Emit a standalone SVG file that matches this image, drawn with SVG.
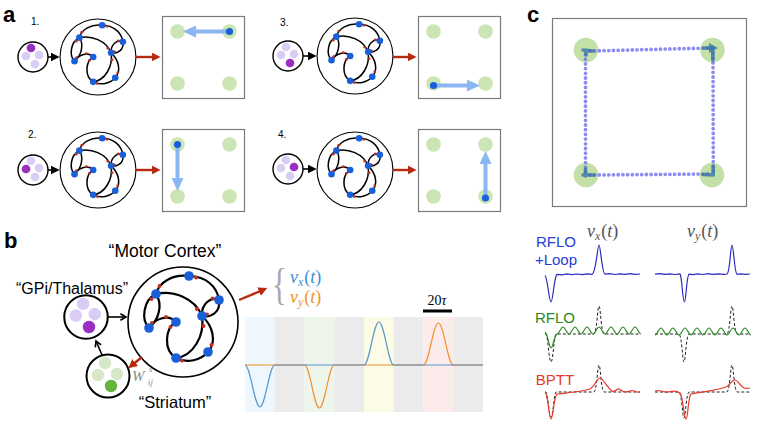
<svg xmlns="http://www.w3.org/2000/svg" xmlns:xlink="http://www.w3.org/1999/xlink" width="758" height="427" viewBox="0 0 758 427">
<style>
.sans{font-family:"Liberation Sans",Arial,sans-serif}
.pl{font-family:"Liberation Sans",Arial,sans-serif;font-size:22px;font-weight:bold}
.num{font-family:"Liberation Sans",Arial,sans-serif;font-size:10px}
.box{fill:#fff;stroke:#7a7a7a;stroke-width:1.2}
.tgt{fill:#cbe5b4}
.math{font-family:"Liberation Serif","Times New Roman",serif;font-style:italic}
.up{font-style:normal}
.ra{fill:none;stroke:#b8290f;stroke-width:2.4}
.ba{fill:none;stroke:#000;stroke-width:1.6}
.bl{fill:none;stroke:#8ab6f2;stroke-width:4}
.bdot{fill:#1a5fd8}
.tr{fill:none;stroke-width:1.2}
.dash{fill:none;stroke:#222;stroke-width:1;stroke-dasharray:3 2}
.traj{fill:none;stroke:#7070ee;stroke-opacity:0.8;stroke-width:3.8;stroke-linecap:round;stroke-dasharray:0 4.7}
.clu{fill:none;stroke:#3a74a8;stroke-opacity:0.8;stroke-width:3.6;stroke-linecap:round}
</style>
<defs>
<marker id="rh" viewBox="0 0 10 10" refX="6" refY="5" markerWidth="9" markerHeight="9" markerUnits="userSpaceOnUse" orient="auto"><path d="M0,0 L10,5 L0,10 z" fill="#b8290f"/></marker>
<marker id="bh" viewBox="0 0 10 10" refX="6" refY="5" markerWidth="9" markerHeight="9" markerUnits="userSpaceOnUse" orient="auto"><path d="M0,0 L10,5 L0,10 z" fill="#000"/></marker>
<marker id="ch" viewBox="0 0 10 10" refX="8" refY="5" markerWidth="8" markerHeight="8" markerUnits="userSpaceOnUse" orient="auto"><path d="M1,1 L8,5 L1,9" fill="none" stroke="#000" stroke-width="2"/></marker>
<marker id="lb" viewBox="0 0 13 12" refX="7" refY="6" markerWidth="13" markerHeight="12" markerUnits="userSpaceOnUse" orient="auto"><path d="M0,0 L13,6 L0,12 z" fill="#8ab6f2"/></marker>
<g id="net">
<circle r="55" fill="#fff" stroke="#000" stroke-width="1.6"/>
<g fill="none" stroke="#000" stroke-width="2.2">
<path d="M-27,-28 C-24,-40 -10,-48 6,-46"/>
<path d="M6,-46 C22,-46 34,-36 36,-22"/>
<path d="M-27,-28 C-10,-32 12,-24 19,-6"/>
<path d="M-27,-28 C-40,-22 -42,-2 -34,6"/>
<path d="M-27,-28 C-20,-18 -24,-2 -34,6"/>
<path d="M-34,6 C-28,-4 -14,-8 -7,0"/>
<path d="M-7,0 C-18,6 -20,28 -7,36"/>
<path d="M36,-22 C28,-26 18,-18 19,-6"/>
<path d="M36,-22 C38,-10 28,-4 19,-6"/>
<path d="M19,-6 C30,4 34,20 25,30"/>
<path d="M19,-6 C22,14 10,34 -7,36"/>
<path d="M-7,36 C4,42 18,38 25,30"/>
</g>
<g fill="#c0301f">
<circle cx="-23.5" cy="-36" r="2"/><circle cx="13" cy="-44.5" r="2"/><circle cx="14" cy="-13" r="2"/>
<circle cx="-31.5" cy="-23" r="2"/><circle cx="-31" cy="1" r="2"/><circle cx="-12.5" cy="5" r="2"/>
<circle cx="-17" cy="-5" r="2"/><circle cx="29.5" cy="-23.5" r="2"/><circle cx="24" cy="-7.5" r="2"/>
<circle cx="28.5" cy="23" r="2"/><circle cx="20.5" cy="4" r="2"/><circle cx="-1" cy="38.5" r="2"/>
</g>
<g fill="#1a5fd8">
<circle cx="6" cy="-46" r="4.8"/><circle cx="-27" cy="-28" r="4.8"/><circle cx="36" cy="-22" r="4.8"/>
<circle cx="19" cy="-6" r="4.8"/><circle cx="-7" cy="0" r="4.8"/><circle cx="-34" cy="6" r="4.8"/>
<circle cx="25" cy="30" r="4.8"/><circle cx="-7" cy="36" r="4.8"/>
</g>
</g>
<g id="inp">
<circle r="15" fill="#fff" stroke="#000" stroke-width="1.4"/>
<g fill="#d9ccf5"><circle cx="-2" cy="-9" r="4.3"/><circle cx="-7" cy="-1" r="4.3"/><circle cx="6" cy="-2" r="4.3"/><circle cx="2" cy="7" r="4.3"/></g>
</g>
</defs>
<rect width="758" height="427" fill="#fff"/>

<!-- Panel a -->
<text class="pl" x="3" y="22">a</text>
<g id="a1">
<text class="num" x="31" y="25">1.</text>
<use xlink:href="#inp" transform="translate(33,57)"/>
<circle cx="31" cy="48" r="4.3" fill="#9b30c0"/>
<use xlink:href="#net" transform="translate(98,57) scale(0.69)"/>
<rect class="box" x="162.5" y="16.5" width="82" height="82"/>
<circle class="tgt" cx="177.5" cy="31.5" r="7.3"/><circle class="tgt" cx="229.5" cy="31.5" r="7.3"/>
<circle class="tgt" cx="177.5" cy="83.5" r="7.3"/><circle class="tgt" cx="229.5" cy="83.5" r="7.3"/>
<path class="bl" d="M229.5,31.5 L189,31.5" marker-end="url(#lb)"/>
<circle class="bdot" cx="229.5" cy="31.5" r="3.6"/>
</g>
<g id="a2">
<text class="num" x="28" y="138">2.</text>
<use xlink:href="#inp" transform="translate(33,170)"/>
<circle cx="26" cy="169" r="4.3" fill="#9b30c0"/>
<use xlink:href="#net" transform="translate(98,170) scale(0.69)"/>
<rect class="box" x="162.5" y="129.5" width="82" height="82"/>
<circle class="tgt" cx="177.5" cy="144.5" r="7.3"/><circle class="tgt" cx="229.5" cy="144.5" r="7.3"/>
<circle class="tgt" cx="177.5" cy="196.5" r="7.3"/><circle class="tgt" cx="229.5" cy="196.5" r="7.3"/>
<path class="bl" d="M177.5,144.5 L177.5,185" marker-end="url(#lb)"/>
<circle class="bdot" cx="177.5" cy="144.5" r="3.6"/>
</g>
<g id="a3">
<text class="num" x="280" y="26">3.</text>
<use xlink:href="#inp" transform="translate(288,56)"/>
<circle cx="290" cy="63" r="4.3" fill="#9b30c0"/>
<use xlink:href="#net" transform="translate(355,56) scale(0.69)"/>
<rect class="box" x="418.5" y="16.5" width="82" height="82"/>
<circle class="tgt" cx="433.5" cy="31.5" r="7.3"/><circle class="tgt" cx="485.5" cy="31.5" r="7.3"/>
<circle class="tgt" cx="433.5" cy="83.5" r="7.3"/><circle class="tgt" cx="485.5" cy="83.5" r="7.3"/>
<path class="bl" d="M433.5,85.5 L474,85.5" marker-end="url(#lb)"/>
<circle class="bdot" cx="433.5" cy="85.5" r="3.6"/>
</g>
<g id="a4">
<text class="num" x="278" y="138">4.</text>
<use xlink:href="#inp" transform="translate(288,169)"/>
<circle cx="294" cy="167" r="4.3" fill="#9b30c0"/>
<use xlink:href="#net" transform="translate(355,170) scale(0.69)"/>
<rect class="box" x="418.5" y="129.5" width="82" height="82"/>
<circle class="tgt" cx="433.5" cy="144.5" r="7.3"/><circle class="tgt" cx="485.5" cy="144.5" r="7.3"/>
<circle class="tgt" cx="433.5" cy="196.5" r="7.3"/><circle class="tgt" cx="485.5" cy="196.5" r="7.3"/>
<path class="bl" d="M485.5,198 L485.5,157" marker-end="url(#lb)"/>
<circle class="bdot" cx="485.5" cy="198" r="3.6"/>
</g>
<g id="connectors-a">
<path class="ba" d="M48,57 L56,57" marker-end="url(#bh)"/>
<path class="ba" d="M48,170 L56,170" marker-end="url(#bh)"/>
<path class="ba" d="M303,56 L313,56" marker-end="url(#bh)"/>
<path class="ba" d="M303,169 L313,169" marker-end="url(#bh)"/>
<path class="ra" d="M136,57 L157,57" marker-end="url(#rh)"/>
<path class="ra" d="M136,170 L157,170" marker-end="url(#rh)"/>
<path class="ra" d="M393,57 L413,57" marker-end="url(#rh)"/>
<path class="ra" d="M393,170 L413,170" marker-end="url(#rh)"/>
</g>

<!-- Panel b -->
<text class="pl" x="4" y="248">b</text>
<g id="motor">
<use xlink:href="#net" transform="translate(183,322)"/>
<text class="sans" x="165" y="257" font-size="17.5" text-anchor="middle">“Motor Cortex”</text>
</g>
<g id="gpi">
<use xlink:href="#inp" transform="translate(86,317) scale(1.45)"/>
<circle cx="89" cy="327" r="6.2" fill="#9b30c0"/>
<text class="sans" x="72" y="294" font-size="16" text-anchor="middle">“GPi/Thalamus”</text>
</g>
<g id="striatum">
<circle cx="108" cy="376" r="21.5" fill="#fff" stroke="#000" stroke-width="2"/>
<g fill="#d6e8c8"><circle cx="105" cy="363" r="6.2"/><circle cx="98" cy="375" r="6.2"/><circle cx="117" cy="374" r="6.2"/></g>
<circle cx="111" cy="386" r="6.2" fill="#64b43c"/>
<text class="sans" x="175" y="408" font-size="16.5" text-anchor="middle">“Striatum”</text>
</g>
<g id="connectors-b">
<path class="ba" d="M108,317 L126,317" stroke-width="2" marker-end="url(#ch)"/>
<path class="ba" d="M102,355 L96,341" stroke-width="2" marker-end="url(#ch)"/>
<path class="ra" d="M142,357 L131,366" stroke-width="2" marker-end="url(#rh)"/>
<path class="ra" d="M239,300 L264,289.5" stroke-width="2" marker-end="url(#rh)"/>
</g>
<g id="wlabel" class="math" fill="#8a8a8a">
<text x="132" y="381" font-size="15">W</text>
<text x="149" y="372" font-size="9">s</text>
<text x="148" y="385" font-size="9">ij</text>
</g>
<g id="vout">
<text transform="translate(272,299) scale(0.7,1)" font-family="Liberation Serif,serif" font-size="44" fill="#a8a8a8">{</text>
<text class="math" x="290" y="283" font-size="18" fill="#3a8fd9">v<tspan font-size="12" dy="3">x</tspan><tspan class="up" dy="-3" dx="1">(</tspan>t<tspan class="up">)</tspan></text>
<text class="math" x="290" y="303" font-size="18" fill="#f0922e">v<tspan font-size="12" dy="3">y</tspan><tspan class="up" dy="-3" dx="1">(</tspan>t<tspan class="up">)</tspan></text>
</g>
<g id="scalebar">
<text x="437" y="305" font-family="Liberation Serif,serif" font-size="14" text-anchor="middle">20<tspan font-style="italic">τ</tspan></text>
<rect x="423" y="309.5" width="29" height="3" fill="#000"/>
</g>
<g id="traces-b">
<rect x="245" y="317" width="29.75" height="95" fill="#edf7fd"/>
<rect x="274.75" y="317" width="29.75" height="95" fill="#ebebeb"/>
<rect x="304.5" y="317" width="29.75" height="95" fill="#eef5ea"/>
<rect x="334.25" y="317" width="29.75" height="95" fill="#ebebeb"/>
<rect x="364" y="317" width="29.75" height="95" fill="#fbfbe6"/>
<rect x="393.75" y="317" width="29.75" height="95" fill="#ebebeb"/>
<rect x="423.5" y="317" width="29.75" height="95" fill="#fbeceb"/>
<rect x="453.25" y="317" width="29.75" height="95" fill="#ebebeb"/>
<path class="tr" stroke="#f0922e" d="M245,365 L304.5,365 C309.9,365 314,408 319.4,408 C324.8,408 328.9,365 334.25,365 L423.5,365 C428.9,365 433,323 438.4,323 C443.8,323 447.9,365 453.25,365 L483,365"/>
<path class="tr" stroke="#3d85c6" stroke-opacity="0.85" d="M245,365 C250.4,365 254.5,407 259.9,407 C265.3,407 269.4,365 274.75,365 L364,365 C369.4,365 373.5,322 378.9,322 C384.3,322 388.4,365 393.75,365 L483,365"/>
</g>

<!-- Panel c -->
<text class="pl" x="527" y="22">c</text>
<g id="arena">
<rect class="box" x="552.5" y="18.5" width="194" height="188"/>
<g fill="#b8dc98" fill-opacity="0.85">
<circle cx="586" cy="50" r="12.3"/><circle cx="712.5" cy="50" r="12.3"/>
<circle cx="586" cy="175" r="12.3"/><circle cx="712" cy="175" r="12.3"/>
</g>
<path class="traj" d="M590,51 L709,48"/>
<path class="traj" d="M585.5,54.5 L585.5,172"/>
<path class="traj" d="M590,175 L708,174"/>
<path class="traj" d="M713,53.5 L713.3,171"/>
<path class="clu" d="M583,50 L593,51 M586,50 L586,55 M704,48 L713,48 M712.8,49 L712.8,60 M583,175 L594,175 M585.5,169 L585.5,176 M703,174.5 L713,175 M713.2,166 L713.2,175"/>
<path d="M709,43 L718,48 L709,53 z" fill="#3a74a8" fill-opacity="0.8"/>
</g>
<g id="headers" class="math" fill="#555">
<text x="587" y="237" font-size="18">v<tspan font-size="12" dy="3">x</tspan><tspan class="up" dy="-3" dx="1">(</tspan>t<tspan class="up">)</tspan></text>
<text x="687" y="237" font-size="18">v<tspan font-size="12" dy="3">y</tspan><tspan class="up" dy="-3" dx="1">(</tspan>t<tspan class="up">)</tspan></text>
</g>
<g id="row-loop">
<text class="sans" x="556" y="247" font-size="15" text-anchor="middle" fill="#2340d8">RFLO</text>
<text class="sans" x="556" y="265" font-size="15" text-anchor="middle" fill="#2340d8">+Loop</text>
<path class="tr" stroke="#2a2ac0" d="M545,275.5 C547.5,277 549,302 551,302 C553,302 554,277 557,274.3 L562,274.8 L567,273.9 L572,274.6 L577,274 L582,274.7 L587,273.8 L592,274.3 C596,273.5 597.5,245 599,245 C600.5,245 602,273.5 605,274.2 L610,273.6 L615,274.5 L620,273.8 L625,274.4 L630,273.7 L635,274.3 L640,274"/>
<path class="tr" stroke="#2a2ac0" d="M655,274.2 L660,273.6 L665,274.4 L670,273.8 L675,274.5 L680,274 C682,276 682.5,302 684.5,302 C686,302 686.5,276 689,274.2 L693,274.6 L698,273.8 L703,274.5 L708,273.7 L713,274.4 L718,273.9 L724,274.3 L727,274 C730,273 730.5,245 732,245 C733.5,245 734.5,273 737,274.3 L741,273.8 L746,274.4 L750,274"/>
</g>
<g id="row-rflo">
<text class="sans" x="555" y="323" font-size="15" text-anchor="middle" fill="#2a8a22">RFLO</text>
<path class="dash" d="M545,334 L546,334 C548,336 549,362 551,362 C553,362 554,336 556,334 L594,334 C597,332 597.5,306 599,306 C600.5,306 601,332 604,334 L640,334"/>
<path class="dash" d="M655,334 L679,334 C682,336 682.5,362 684,362 C685.5,362 686,336 689,334 L727,334 C730,332 730.5,306 732,306 C733.5,306 734,332 737,334 L750,334"/>
<path class="tr" stroke="#2a8a22" d="M545,332 C548,334 549,348 551,348 C553,348 554,336 557,334 c2.2,0 3.8,-7 6,-7 s3.8,7 6,7 s3.8,-7 6,-7 s3.8,7 6,7 s3.8,-7 6,-7 s3.8,7 6,7 s3.8,-7 6,-7 s3.8,7 6,7 s3.8,-7 6,-7 s3.8,7 6,7 s3.8,-7 6,-7 s3.8,7 6,7 s3.8,-7 6,-7 s3.8,7 6,7"/>
<path class="tr" stroke="#2a8a22" d="M655,335 c2.2,0 3.8,-7 6,-7 s3.8,7 6,7 s3.8,-7 6,-7 s3.8,7 6,7 s3.8,-7 6,-7 s3.8,7 6,7 s3.8,-7 6,-7 s3.8,7 6,7 s3.8,-7 6,-7 s3.8,7 6,7 s3.8,-7 6,-7 s3.8,7 6,7 s3.8,-7 6,-7 s3.8,7 6,7 s3.8,-7 6,-7 s3.8,7 6,7"/>
</g>
<g id="row-bptt">
<text class="sans" x="555" y="385" font-size="15" text-anchor="middle" fill="#e5392a">BPTT</text>
<path class="dash" d="M545,392 L546,392 C548,394 549,417 551,417 C553,417 554,394 556,392 L594,392 C597,390 597.5,365 599,365 C600.5,365 601,390 604,392 L640,392"/>
<path class="dash" d="M655,392 L679,392 C682,394 682.5,418 684,418 C685.5,418 686,394 689,392 L727,392 C730,390 730.5,365 732,365 C733.5,365 734,390 737,392 L750,392"/>
<path class="tr" stroke="#e5392a" d="M545,392 C548,394 549,419 551,419 C553,419 554,396 557,394 C565,393 580,392 590,389 C595,386 597,378 600,378 C603,378 606,386 612,391 C615,393 617,388 619,389 C622,391 625,393 630,391 C633,389 636,393 640,392"/>
<path class="tr" stroke="#e5392a" d="M655,391 C660,389 663,393 668,392 C672,391 676,390 680,393 C683,396 684,419 686,419 C688,419 688,397 691,394 C700,392 715,391 726,387 C730,385 732,380 735,380 C738,380 740,386 744,388 C746,389 748,388 750,388"/>
</g>
</svg>
